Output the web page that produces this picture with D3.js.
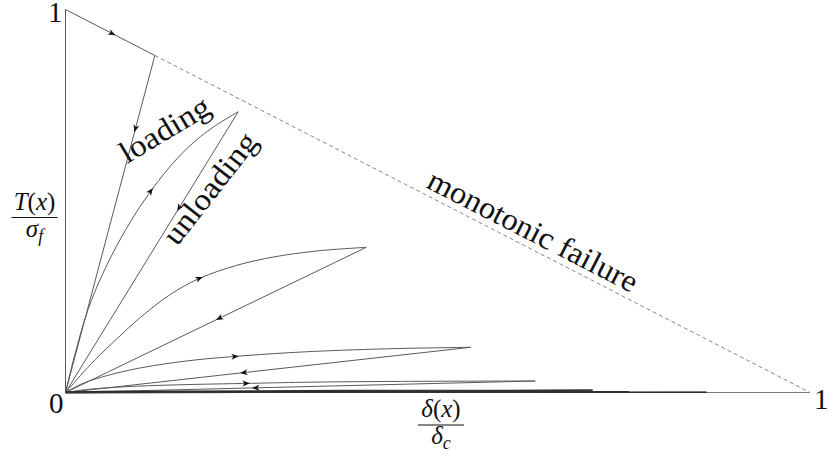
<!DOCTYPE html>
<html>
<head>
<meta charset="utf-8">
<script src="https://cdn.jsdelivr.net/npm/d3@7"></script>
</head>
<body style="margin:0">
<svg id="chart" width="830" height="461"></svg>
<script>
// Normalised traction–separation response under cyclic loading:
// opening δ/δc on x, traction T/σf on y.
const tickLabels = ["0", "1"];
const envelope = [[0, 1], [1, 0]];                 // monotonic failure line

// peak (turning point) of every cycle
const peakOpening  = [0.12, 0.232, 0.404, 0.544, 0.631, 0.708, 0.757, 0.861];
const peakTraction = [0.88, 0.733, 0.379, 0.118, 0.030, 0.006, 0.0018, 0.0006];

// interior points of each reloading branch (origin and peak are added)
const reload1 = [[0.012, 0.095], [0.03, 0.215], [0.05, 0.31], [0.075, 0.405], [0.1, 0.485],
                 [0.125, 0.553], [0.15, 0.611], [0.175, 0.658], [0.2, 0.695]];
const reload2 = [[0.02, 0.044], [0.04, 0.086], [0.07, 0.142], [0.1, 0.195], [0.14, 0.255],
                 [0.18, 0.298], [0.23, 0.332], [0.28, 0.354], [0.34, 0.370]];
const reload3 = [[0.02, 0.021], [0.05, 0.041], [0.1, 0.064], [0.17, 0.084], [0.24, 0.096],
                 [0.32, 0.106], [0.43, 0.114]];
const reload4 = [[0.03, 0.008], [0.08, 0.015], [0.15, 0.020], [0.25, 0.024], [0.33, 0.027], [0.45, 0.029]];
const reload5 = [[0.05, 0.003]];
const reload6 = [[0.05, 0.001]];
const reload7 = [[0.05, 0.0003]];
const reloadBranches = [reload1, reload2, reload3, reload4, reload5, reload6, reload7];

// where the direction arrows sit (fraction of the branch length)
const arrowOnEnvelope = 0.56;
const arrowOnReload   = [0.66, 0.52, 0.435, 0.393];
const arrowOnUnload   = [0.228, 0.354, 0.5, 0.569, 0.603];

const svg = d3.select("#chart");
const x = d3.scaleLinear().domain([0, 1]).range([65.5, 810]);
const y = d3.scaleLinear().domain([0, 1]).range([392.5, 9.5]);

const lineColor = "#5a5a5a";
const smooth = d3.line().x(d => x(d[0])).y(d => y(d[1])).curve(d3.curveCatmullRom.alpha(0.5));
const straight = d3.line().x(d => x(d[0])).y(d => y(d[1]));

// axes: vertical (rigid initial loading) and horizontal
svg.append("path").attr("d", straight([[0, 0], [0, 1]]))
  .attr("fill", "none").attr("stroke", lineColor).attr("stroke-width", 1);
svg.append("path").attr("d", straight([[0, 0], [1, 0]]))
  .attr("fill", "none").attr("stroke", "#777").attr("stroke-width", 1);

// monotonic envelope: followed part solid, rest dashed
const firstPeak = [peakOpening[0], peakTraction[0]];
const envSolid = svg.append("path").attr("d", straight([envelope[0], firstPeak]))
  .attr("fill", "none").attr("stroke", lineColor).attr("stroke-width", 1);
svg.append("path").attr("d", straight([firstPeak, envelope[1]]))
  .attr("fill", "none").attr("stroke", "#777").attr("stroke-width", 0.9)
  .attr("stroke-dasharray", "4,3");

const branchGroup = svg.append("g");
const unloadPaths = [];
const reloadPaths = [];

peakOpening.forEach((px, i) => {
  const peak = [px, peakTraction[i]];
  const flat = i >= 5;
  const p = branchGroup.append("path").attr("d", straight([peak, [0, 0]]))
    .attr("fill", "none").attr("stroke", flat ? "#222" : lineColor)
    .attr("stroke-width", flat ? 1.3 : 1);
  unloadPaths.push(p);
  if (i > 0) {
    const pts = [[0, 0]].concat(reloadBranches[i - 1], [peak]);
    const r = branchGroup.append("path").attr("d", smooth(pts))
      .attr("fill", "none").attr("stroke", flat ? "#333" : lineColor)
      .attr("stroke-width", flat ? 1.2 : 1);
    reloadPaths.push(r);
  }
});

// arrowheads
const arrowShape = "M0,0 L-7.5,-3 L-5.5,0 L-7.5,3 Z";
function arrowOn(pathSel, frac) {
  const node = pathSel.node();
  const L = node.getTotalLength();
  const a = node.getPointAtLength(L * frac);
  const b = node.getPointAtLength(Math.min(L, L * frac + 2));
  const c = node.getPointAtLength(Math.max(0, L * frac - 2));
  const ang = Math.atan2(b.y - c.y, b.x - c.x) * 180 / Math.PI;
  svg.append("path").attr("d", arrowShape)
    .attr("transform", `translate(${a.x},${a.y}) rotate(${ang})`)
    .attr("fill", "#111");
}
arrowOn(envSolid, arrowOnEnvelope);
arrowOnUnload.forEach((f, i) => arrowOn(unloadPaths[i], f));
arrowOnReload.forEach((f, i) => arrowOn(reloadPaths[i], f));

function label(sel, size) {
  return sel.style("font-family", '"Liberation Serif"').style("font-size", size + "px").style("fill", "#111");
}

// tick labels at the triangle corners
label(svg.append("text"), 29).attr("x", x(0) - 3).attr("y", y(1) + 12).attr("text-anchor", "end").text(tickLabels[1]);
label(svg.append("text"), 29).attr("x", x(0) - 2).attr("y", y(0) + 20).attr("text-anchor", "end").text(tickLabels[0]);
label(svg.append("text"), 29).attr("x", x(1) + 4).attr("y", y(0) + 16).attr("text-anchor", "start").text(tickLabels[1]);

// fraction-style axis titles
function fraction(cx, top, numParts, denParts, barW) {
  const g = svg.append("g");
  const num = label(g.append("text"), 25).attr("x", cx).attr("y", top).attr("text-anchor", "middle");
  numParts.forEach(p => num.append("tspan").style("font-style", p[1] ? "italic" : "normal").text(p[0]));
  g.append("line").attr("x1", cx - barW / 2).attr("x2", cx + barW / 2)
    .attr("y1", top + 8).attr("y2", top + 8).attr("stroke", "#111").attr("stroke-width", 1.1);
  const den = label(g.append("text"), 25).attr("x", cx).attr("y", top + 27).attr("text-anchor", "middle");
  denParts.forEach(p => {
    const t = den.append("tspan").style("font-style", p[1] ? "italic" : "normal").text(p[0]);
    if (p[2]) t.style("font-size", "18px").attr("dy", 5);
  });
}
fraction(34.5, 209.5, [["T", true], ["(", false], ["x", true], [")", false]],
         [["σ", true], ["f", true, true]], 46);
fraction(441, 417, [["δ", true], ["(", false], ["x", true], [")", false]],
         [["δ", true], ["c", true, true]], 46);

// annotations
label(svg.append("text"), 31).attr("transform", "translate(127,164) rotate(-31)")
  .attr("textLength", 100).attr("lengthAdjust", "spacingAndGlyphs").text("loading");
label(svg.append("text"), 31).attr("transform", "translate(177,247) rotate(-52)")
  .attr("textLength", 133).attr("lengthAdjust", "spacingAndGlyphs").text("unloading");
label(svg.append("text"), 31).attr("transform", "translate(425,187) rotate(27.2)")
  .attr("textLength", 232).attr("lengthAdjust", "spacingAndGlyphs").text("monotonic failure");
</script>
</body>
</html>
